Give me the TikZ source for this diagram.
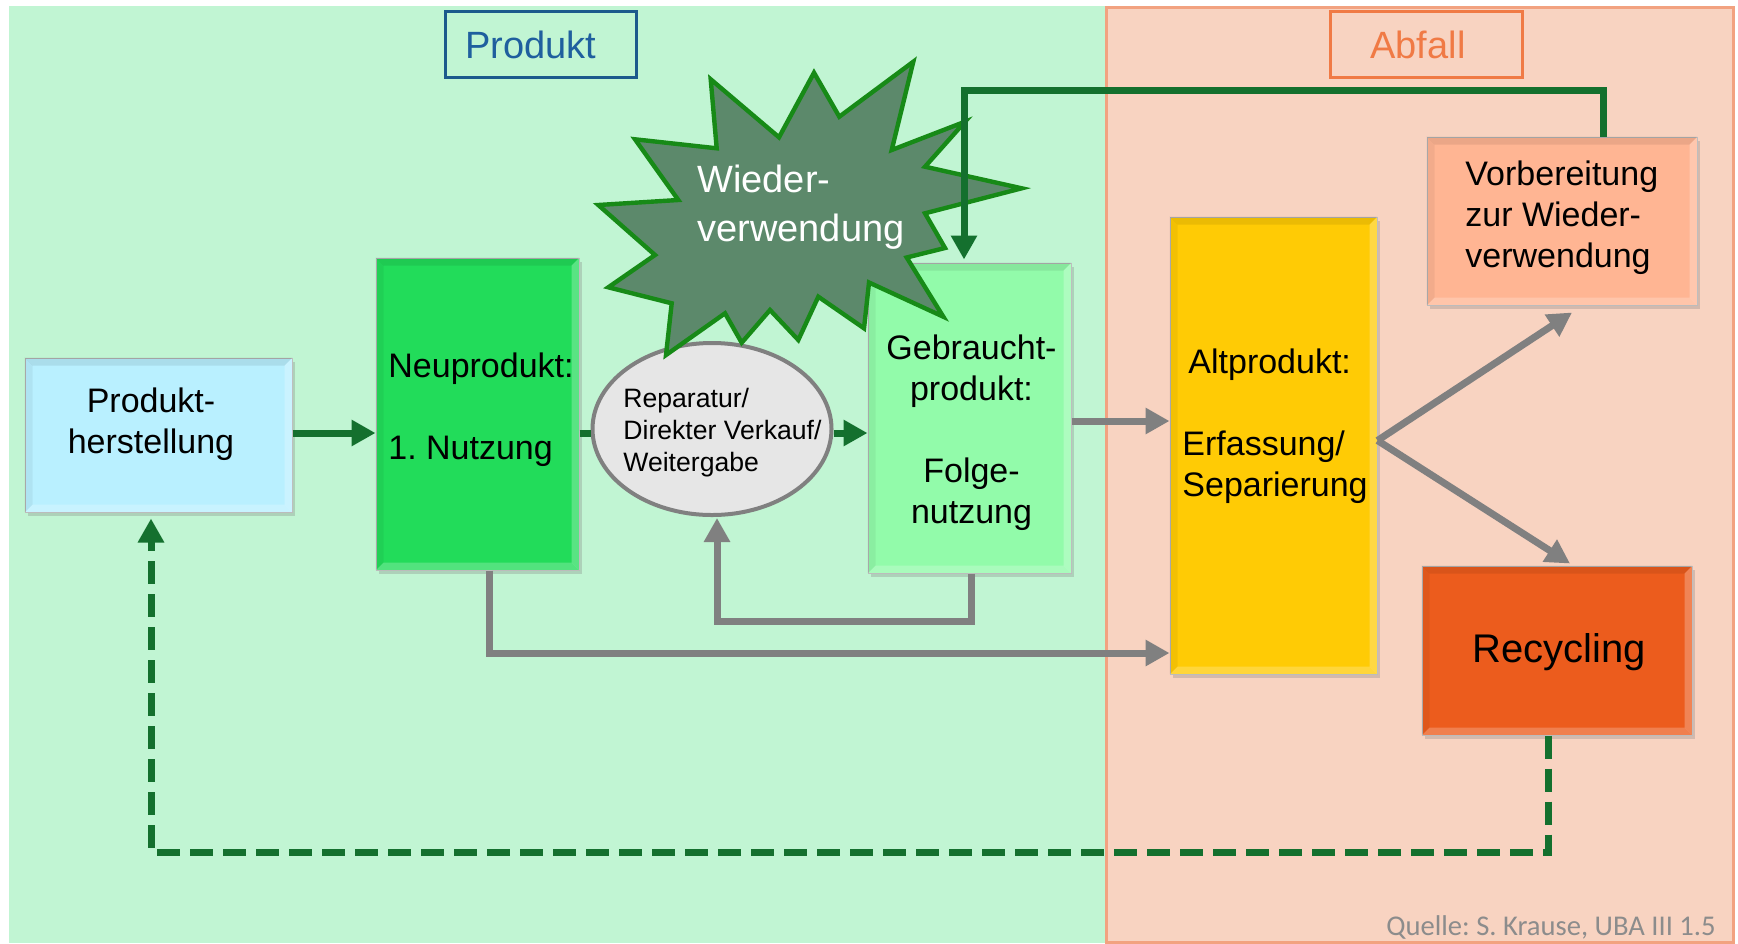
\documentclass[tikz,border=0pt]{standalone}
\usepackage{fontspec}
\setmainfont{Liberation Sans}
\newfontfamily\quellefont{Carlito}
\usetikzlibrary{arrows.meta,shapes.geometric,fit,shadows}
\frenchspacing

\definecolor{bgprod}{HTML}{C1F5D3}
\definecolor{bgwaste}{HTML}{F8D3C1}
\definecolor{bgwasteline}{HTML}{F2A280}
\definecolor{prodblue}{HTML}{1C5A8C}
\definecolor{prodbluetext}{HTML}{1F5F9E}
\definecolor{wasteorange}{HTML}{F07A45}
\definecolor{arrowgreen}{HTML}{14702E}
\definecolor{arrowgrey}{HTML}{808080}
\definecolor{starfill}{HTML}{5C896B}
\definecolor{starline}{HTML}{178A17}
\definecolor{cmanuf}{HTML}{B9F0FF}
\definecolor{cnew}{HTML}{22DC5A}
\definecolor{cused}{HTML}{92FBAA}
\definecolor{cold}{HTML}{FFCB05}
\definecolor{cprep}{HTML}{FFB593}
\definecolor{crecyc}{HTML}{EC5C1D}
\definecolor{crepair}{HTML}{E6E6E6}
\definecolor{quellegrey}{HTML}{8C8C8C}

% bevel bands on the edges of a rectangular node
\newcommand\bevelbands[1]{%
  \fill[black,opacity=.08] (#1.north west) -- (#1.north east) -- ([shift={(-8,8)}]#1.north east) -- ([shift={(8,8)}]#1.north west) -- cycle;
  \fill[white,opacity=.25] (#1.north east) -- (#1.south east) -- ([shift={(-8,-8)}]#1.south east) -- ([shift={(-8,8)}]#1.north east) -- cycle;
  \fill[white,opacity=.22] (#1.south west) -- (#1.south east) -- ([shift={(-8,-8)}]#1.south east) -- ([shift={(8,-8)}]#1.south west) -- cycle;
  \fill[black,opacity=.05] (#1.north west) -- (#1.south west) -- ([shift={(8,-8)}]#1.south west) -- ([shift={(8,8)}]#1.north west) -- cycle;
}

\begin{document}
\begin{tikzpicture}[x=0.5pt,y=-0.5pt,
  box/.style={inner sep=0pt, draw=black!30, line width=0.5pt,
    drop shadow={opacity=.3, shadow xshift=1.5pt, shadow yshift=-2pt}},
  boxtext/.style={inner sep=0pt, font=\fontsize{17}{20.5}\selectfont},
  tag/.style={inner sep=0pt, line width=1.5pt},
  tagtext/.style={inner sep=0pt, font=\fontsize{19}{23}\selectfont},
  gline/.style={draw=arrowgreen, line width=3.5pt},
  garrow/.style={gline, -{Triangle[length=12pt,width=12.5pt]}},
  grarrow/.style={draw=arrowgrey, line width=3.5pt, -{Triangle[length=12pt,width=12.5pt]}},
  dasharrow/.style={garrow, dash pattern=on 11.5pt off 5pt}]

\useasboundingbox (0,0) rectangle (1738,943);
\fill[white] (0,0) rectangle (1738,943);

% two zones: product and waste
\fill[bgprod] (9,6) rectangle (1106,943);
\filldraw[fill=bgwaste, draw=bgwasteline, line width=1.5pt] (1106,7) rectangle (1733,942);

% zone titles
\node[tag, draw=prodblue, fit={(445,11) (636,77)}] (tprod) {};
\node[tagtext, text=prodbluetext] (tprodtxt) at (531,44.5) {Produkt};
\node[tag, draw=wasteorange, fit={(1330,11) (1522,77)}] (twaste) {};
\node[tagtext, text=wasteorange] (twastetxt) at (1418,44.5) {Abfall};

% process boxes
\node[box, fill=cmanuf, fit={(25,358) (292,512)}] (prod) {};
\bevelbands{prod}
\node[box, fill=cnew, fit={(376,258) (579,570)}] (neu) {};
\bevelbands{neu}
\node[box, fill=cused, fit={(868,263) (1071,573)}] (geb) {};
\bevelbands{geb}
\node[box, fill=cold, fit={(1170,217) (1377,674)}] (alt) {};
\bevelbands{alt}
\node[box, fill=cprep, fit={(1427,137) (1697,305)}] (vor) {};
\bevelbands{vor}
\node[box, fill=crecyc, fit={(1422,566) (1692,735)}] (rec) {};
\bevelbands{rec}
\node[ellipse, draw=arrowgrey, line width=2pt, fill=crepair,
      minimum width=119.5pt, minimum height=86pt, inner sep=0pt] (ell) at (712,429) {};

% box texts
\node[boxtext, align=center] (prodtxt) at (151,424) {Produkt-\\herstellung};
\node[boxtext, align=left, anchor=west] (neutxt) at (388,409.5) {Neuprodukt:\\[20.5pt]1. Nutzung};
\node[inner sep=0pt, font=\fontsize{13.3}{16}\selectfont, align=left, anchor=west] (elltxt)
     at (623,433) {Reparatur/\\Direkter Verkauf/\\Weitergabe};
\node[boxtext, align=center] (gebtxt) at (971.5,433) {Gebraucht-\\produkt:\\[20.5pt]Folge-\\nutzung};
\node[boxtext, align=left, anchor=west] (alttxt) at (1182,426) {\hspace*{3pt}Altprodukt:\\[20.5pt]Erfassung/\\Separierung};
\node[boxtext, align=left, anchor=west] (vortxt) at (1465,217.5) {Vorbereitung\\zur Wieder-\\verwendung};
\node[inner sep=0pt, font=\fontsize{20}{24}\selectfont] (rectxt) at (1559,652) {Recycling};

% reuse starburst
\filldraw[fill=starfill, draw=starline, line width=2.2pt, line join=miter]
  (814,72.7) -- (839.3,116.7) -- (913.3,61.7) -- (891.7,150) -- (965,121.7)
  -- (925,166.7) -- (1021.7,188.3) -- (925,213.3) -- (945,248) -- (906.7,257.5)
  -- (943.3,316.7) -- (869,282.5) -- (864,328.3) -- (818.3,296.7) -- (798.3,340)
  -- (770,310) -- (741.7,342.7) -- (725,313.3) -- (666,355) -- (671.7,303.3)
  -- (608.3,287.3) -- (655,255) -- (598.3,205) -- (678.3,200) -- (635,139.3)
  -- (716.7,148.3) -- (710.7,79.3) -- (779,137.3) -- cycle;
\node[inner sep=0pt, font=\fontsize{19}{24.5}\selectfont, text=white, align=left, anchor=west]
  (startxt) at (697,207.5) {Wieder-\\verwendung};

% helper rows for horizontal connectors
\coordinate (row) at (0,433);
\coordinate (rowb) at (0,421);
\coordinate (rowc) at (0,653);
\coordinate (rowd) at (0,621);
\coordinate (rowtop) at (0,90);
\coordinate (rowbot) at (0,852);

% connector end points on the boxes
\coordinate (gebout) at ([shift={(1.5,0)}]geb.south);
\coordinate (ellin) at ([shift={(5,1)}]ell.south);
\coordinate (neuout) at ([shift={(12,0)}]neu.south);
\coordinate (altout) at ([shift={(0,-5)}]alt.east);
\coordinate (vorin) at ([shift={(10,7)}]vor.south);
\coordinate (recin) at ([shift={(13,-2)}]rec.north);
\coordinate (vorout) at ([shift={(41,0)}]vor.north);
\coordinate (gebin) at ([shift={(-5.5,-3)}]geb.north);
\coordinate (recout) at ([shift={(-9,0)}]rec.south);
\coordinate (prodin) at ([shift={(-7.5,6)}]prod.south);

% product flow
\draw[garrow] (prod.east |- row) -- (neu.west |- row);
\draw[gline] (neu.east |- row) -- (ell.west |- row);
\draw[garrow] (ell.east |- row) -- (geb.west |- row);

% flows into waste
\draw[grarrow] (geb.east |- rowb) -- (alt.west |- rowb);
\draw[grarrow] (gebout) -- (gebout |- rowd) -- (ellin |- rowd) -- (ellin);
\draw[grarrow] (neuout) -- (neuout |- rowc) -- (alt.west |- rowc);
\draw[grarrow] (altout) -- (vorin);
\draw[grarrow] (altout) -- (recin);

% preparation for reuse back to used product
\draw[garrow] (vorout) -- (vorout |- rowtop) -- (gebin |- rowtop) -- (gebin);

% recycling back to production
\draw[dasharrow] (recout) -- (recout |- rowbot) -- (prodin |- rowbot) -- (prodin);

% source
\node[inner sep=0pt, font=\quellefont\fontsize{14.3}{17}\selectfont, text=quellegrey, anchor=base east]
  (src) at (1716,935) {Quelle: S. Krause, UBA III 1.5};
\end{tikzpicture}
\end{document}
